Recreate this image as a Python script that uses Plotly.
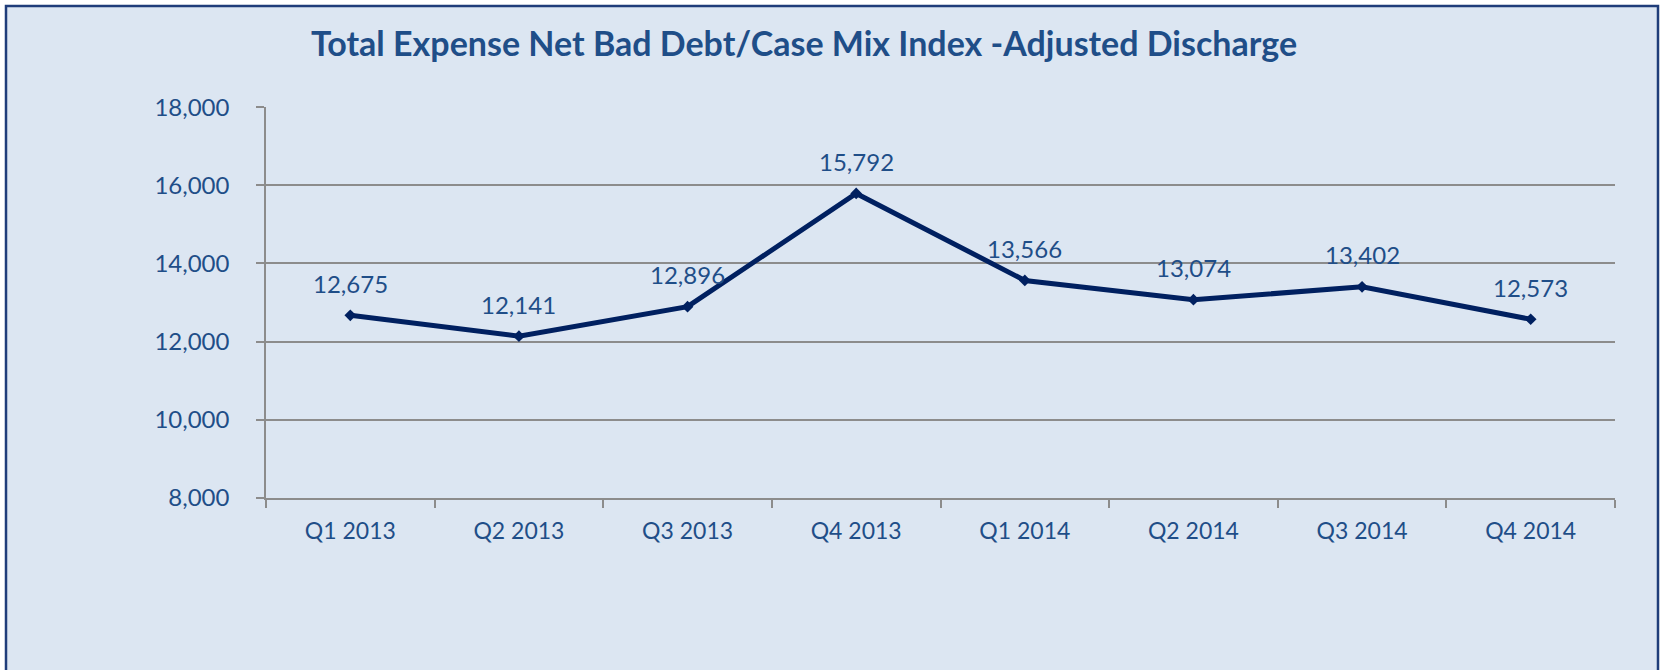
import plotly.graph_objects as go

categories = ["Q1 2013", "Q2 2013", "Q3 2013", "Q4 2013", "Q1 2014", "Q2 2014", "Q3 2014", "Q4 2014"]
values = [12675, 12141, 12896, 15792, 13566, 13074, 13402, 12573]
y_ticks = [8000, 10000, 12000, 14000, 16000, 18000]
title_text = "Total Expense Net Bad Debt/Case Mix Index -Adjusted Discharge"

W, H = 1662, 670
L, R, T, B = 266, 47, 107, 172
pw, ph = W - L - R, H - T - B

BG = "#DCE6F2"
TXT = "#1F4E88"
FONT = "Lato, 'Open Sans', sans-serif"

fig = go.Figure()
fig.add_trace(go.Scatter(
    x=categories, y=values,
    mode="lines+markers",
    line=dict(color="#002060", width=5),
    marker=dict(symbol="diamond", size=9, color="#002060"),
    cliponaxis=False,
    showlegend=False,
    hoverinfo="skip",
))

for c, v in zip(categories, values):
    fig.add_annotation(x=c, y=v, text=f"{v:,}", showarrow=False,
                       yshift=32, xanchor="center", yanchor="middle",
                       font=dict(size=24, color=TXT, family=FONT))

def px_x(x):
    return (x - L) / pw

def px_y(y):
    return (H - B - y) / ph

fig.add_shape(type="rect", xref="paper", yref="paper",
              x0=px_x(6), x1=px_x(1658), y0=px_y(690), y1=px_y(6),
              line=dict(color="#1F3D7A", width=2.5), fillcolor=BG, layer="below")

fig.update_layout(
    width=W, height=H,
    margin=dict(l=L, r=R, t=T, b=B),
    paper_bgcolor="white", plot_bgcolor=BG,
    font=dict(family=FONT, color=TXT),
    title=dict(text="<b>" + title_text + "</b>", x=804 / W, xanchor="center",
               y=1 - 44 / H, yanchor="middle",
               font=dict(size=34, color="#1F4E88", family=FONT)),
    xaxis=dict(
        type="category", tickson="boundaries", ticks="outside", ticklen=8,
        tickcolor="#8C8C8C", tickwidth=1.5,
        showline=True, linecolor="#8C8C8C", linewidth=1.5,
        showgrid=False, tickfont=dict(size=23, color=TXT, family=FONT),
        range=[-0.5, len(categories) - 0.5],
        ticklabelstandoff=12,
    ),
    yaxis=dict(
        range=[8000, 18004], tickvals=y_ticks, tickformat=",",
        ticks="outside", ticklen=8, tickcolor="#8C8C8C", tickwidth=1.5,
        showline=True, linecolor="#8C8C8C", linewidth=1.5,
        showgrid=True, gridcolor="#8C8C8C", gridwidth=1.5,
        zeroline=False, tickfont=dict(size=24, color=TXT, family=FONT),
        ticklabelstandoff=22,
    ),
)

fig.write_html("out.html", config={"displayModeBar": False},
               post_script="document.body.style.margin='0';")
